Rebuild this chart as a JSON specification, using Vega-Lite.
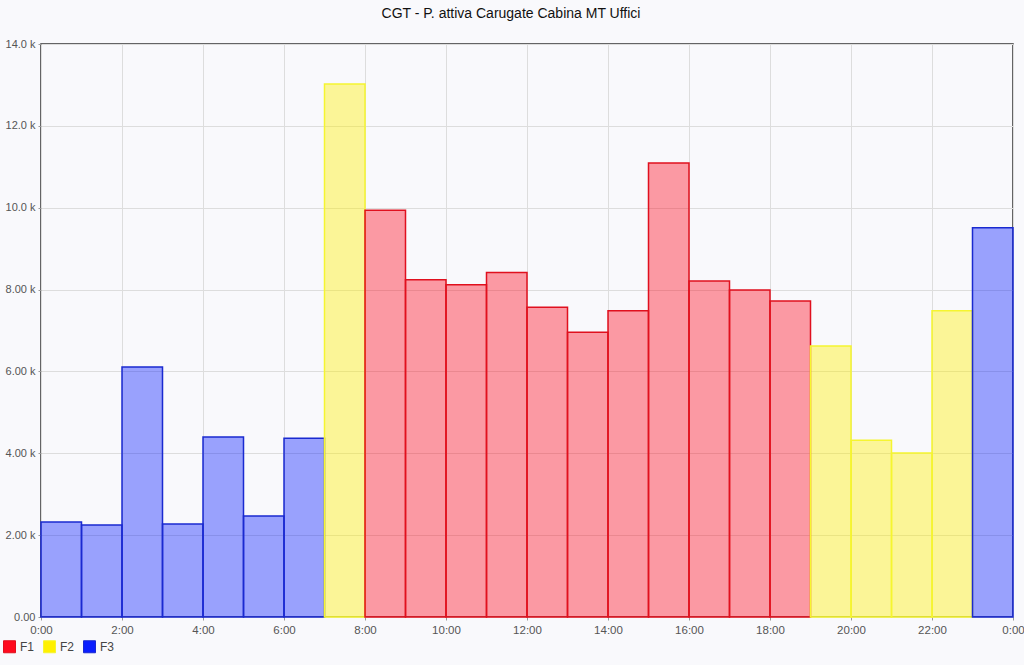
{
  "$schema": "https://vega.github.io/schema/vega-lite/v6.json",
  "width": 972,
  "height": 573,
  "autosize": "none",
  "padding": {"left": 41, "top": 44, "right": 11, "bottom": 48},
  "background": "#f9f9fc",
  "title": {"text": "CGT - P. attiva Carugate Cabina MT Uffici", "font": "Liberation Sans", "fontSize": 14, "fontWeight": "normal", "color": "#111", "anchor": "middle", "frame": "group", "dx": -16, "offset": 17},
  "config": {
    "view": {"stroke": "#333", "strokeWidth": 1.5, "fill": "#f9f9fc"},
    "font": "Liberation Sans"
  },
  "data": {"values": [
    {"h": 0, "h2": 1, "v": 2320, "f": "F3"},
    {"h": 1, "h2": 2, "v": 2250, "f": "F3"},
    {"h": 2, "h2": 3, "v": 6110, "f": "F3"},
    {"h": 3, "h2": 4, "v": 2270, "f": "F3"},
    {"h": 4, "h2": 5, "v": 4400, "f": "F3"},
    {"h": 5, "h2": 6, "v": 2470, "f": "F3"},
    {"h": 6, "h2": 7, "v": 4370, "f": "F3"},
    {"h": 7, "h2": 8, "v": 13020, "f": "F2"},
    {"h": 8, "h2": 9, "v": 9940, "f": "F1"},
    {"h": 9, "h2": 10, "v": 8240, "f": "F1"},
    {"h": 10, "h2": 11, "v": 8120, "f": "F1"},
    {"h": 11, "h2": 12, "v": 8420, "f": "F1"},
    {"h": 12, "h2": 13, "v": 7570, "f": "F1"},
    {"h": 13, "h2": 14, "v": 6960, "f": "F1"},
    {"h": 14, "h2": 15, "v": 7480, "f": "F1"},
    {"h": 15, "h2": 16, "v": 11090, "f": "F1"},
    {"h": 16, "h2": 17, "v": 8210, "f": "F1"},
    {"h": 17, "h2": 18, "v": 7990, "f": "F1"},
    {"h": 18, "h2": 19, "v": 7720, "f": "F1"},
    {"h": 19, "h2": 20, "v": 6620, "f": "F2"},
    {"h": 20, "h2": 21, "v": 4320, "f": "F2"},
    {"h": 21, "h2": 22, "v": 4010, "f": "F2"},
    {"h": 22, "h2": 23, "v": 7480, "f": "F2"},
    {"h": 23, "h2": 24, "v": 9510, "f": "F3"}
  ]},
  "mark": {"type": "bar", "fillOpacity": 0.4, "strokeWidth": 1.5},
  "encoding": {
    "x": {"field": "h", "type": "quantitative",
      "scale": {"domain": [0, 24], "nice": false, "zero": false},
      "axis": {"title": null, "values": [0, 2, 4, 6, 8, 10, 12, 14, 16, 18, 20, 22, 24],
        "labelExpr": "(datum.value % 24) + ':00'", "labelFontSize": 11.5, "labelColor": "#555",
        "labelPadding": 4, "tickSize": 3, "tickColor": "#999", "domain": false,
        "gridColor": "#ddd", "labelFlush": false, "labelOverlap": false}},
    "x2": {"field": "h2"},
    "y": {"field": "v", "type": "quantitative",
      "scale": {"domain": [0, 14000], "nice": false},
      "axis": {"title": null, "values": [0, 2000, 4000, 6000, 8000, 10000, 12000, 14000],
        "labelExpr": "datum.value == 0 ? '0.00' : (datum.value < 10000 ? format(datum.value/1000, '.2f') : format(datum.value/1000, '.1f')) + ' k'",
        "labelFontSize": 11, "labelColor": "#555", "labelPadding": 3, "tickSize": 3, "tickColor": "#999",
        "domain": false, "gridColor": "#ddd", "labelFlush": false}},
    "y2": {"datum": 0},
    "fill": {"field": "f", "type": "nominal",
      "scale": {"domain": ["F1", "F2", "F3"], "range": ["#ff0a1e", "#fff000", "#0a1eff"]},
      "legend": {"title": null, "orient": "none", "direction": "horizontal", "legendX": -38, "legendY": 596,
        "symbolType": "square", "symbolSize": 144, "symbolOpacity": 1, "labelFontSize": 12, "labelColor": "#444",
        "columnPadding": 6, "symbolStrokeWidth": 1}},
    "stroke": {"field": "f", "type": "nominal",
      "scale": {"domain": ["F1", "F2", "F3"], "range": ["#e0101e", "#f5f530", "#1a2ad0"]}}
  }
}
